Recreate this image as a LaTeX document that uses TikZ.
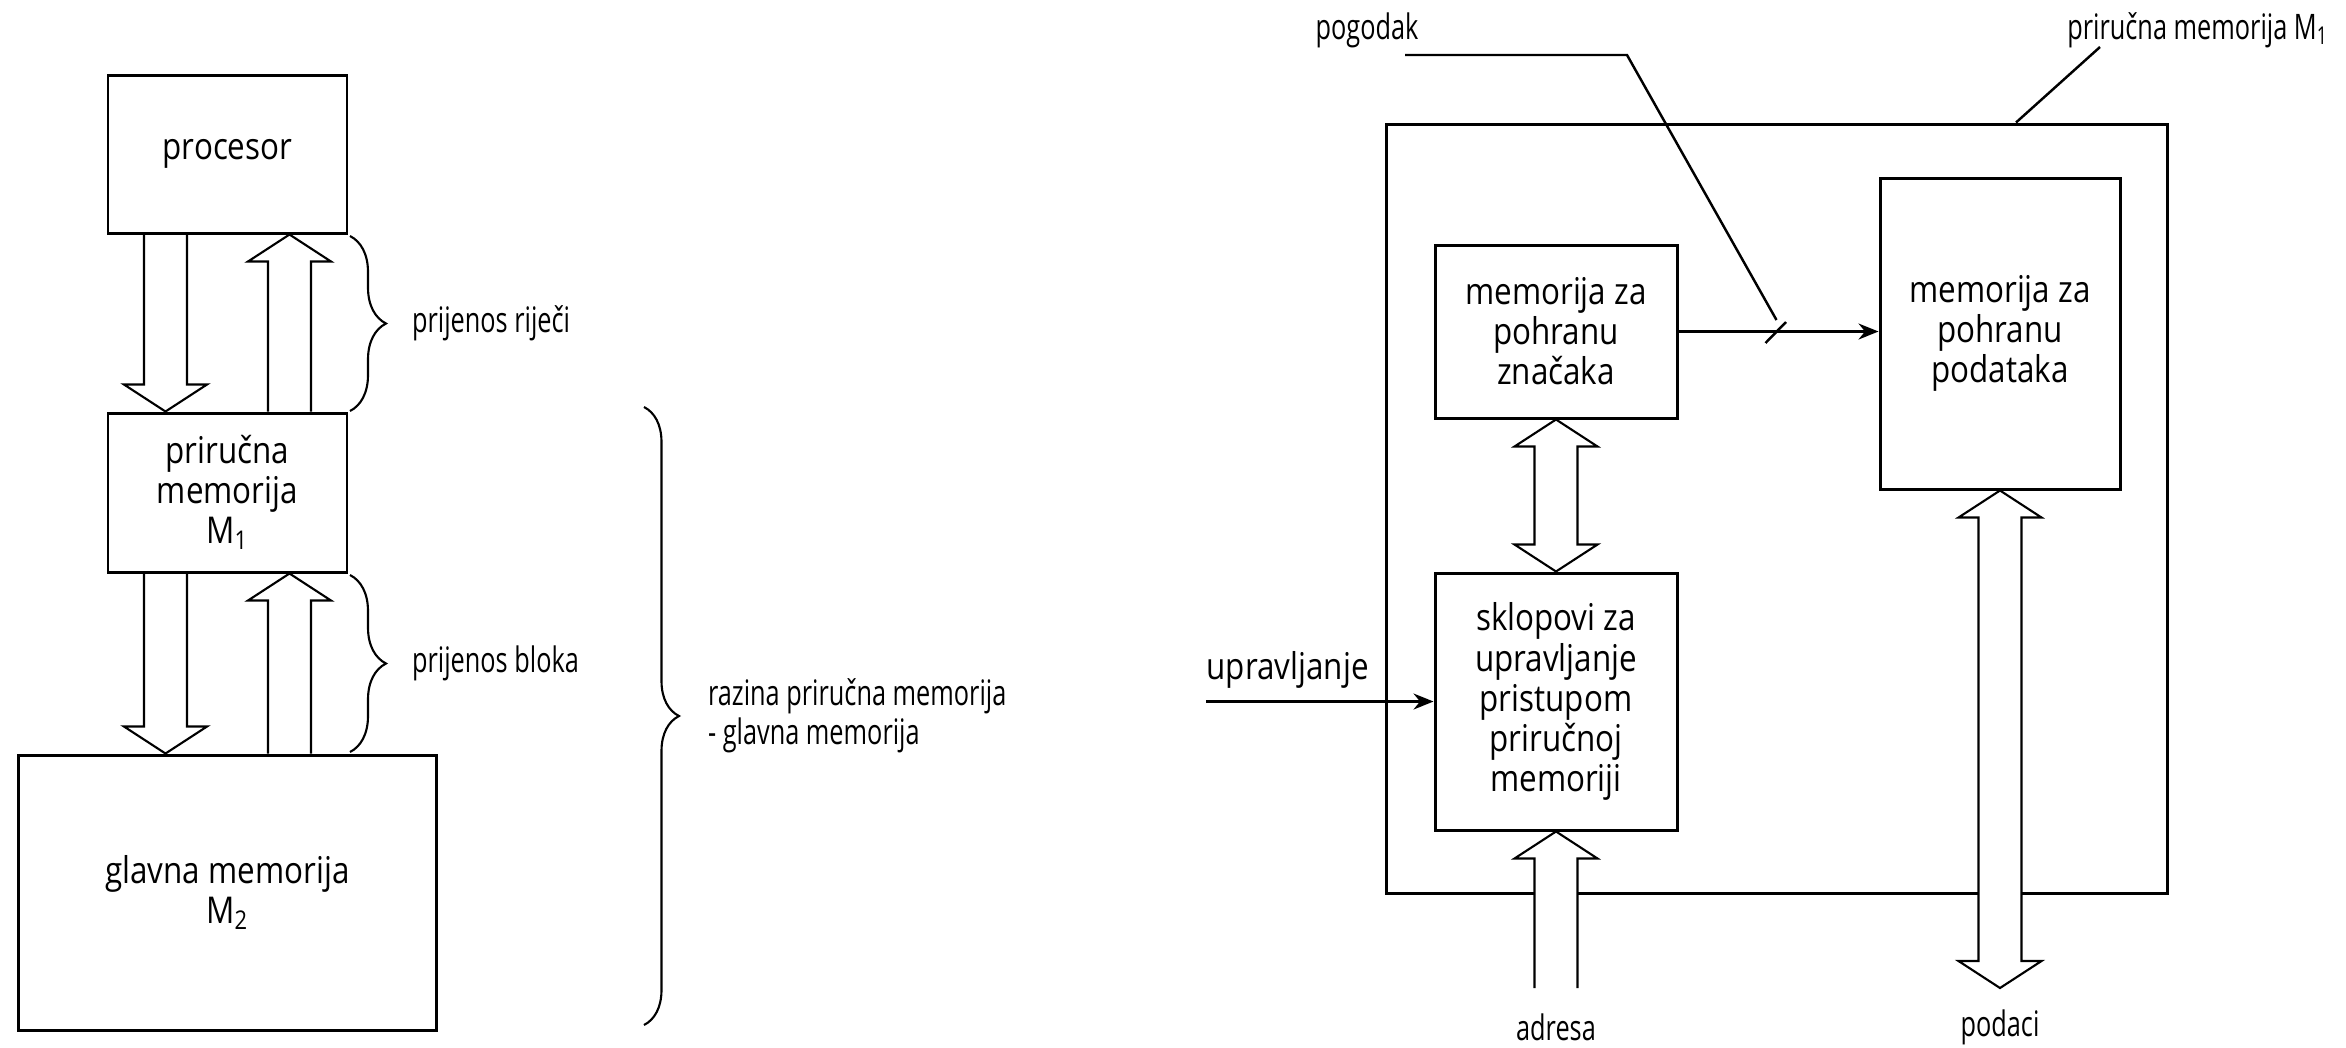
\documentclass[tikz,border=0pt]{standalone}
\usepackage{fontspec}
\setmainfont{Open Sans}[FakeStretch=0.85]
\newfontfamily\lblfont{Open Sans}[FakeStretch=0.72]
\usepackage{tikz}
\usetikzlibrary{calc,arrows.meta,decorations.pathreplacing,backgrounds}
\newcommand{\boxfont}{\fontsize{10.5}{11.4}\selectfont}
\newcommand{\sh}{0.215}
\newcommand{\br}{0.415}
\newcommand{\hl}{0.27}
\newcommand{\fatarrow}[2]{%
\draw[fat] let \p1=(#1), \p2=(#2), \n1={ifthenelse(\y2>\y1,1,-1)} in
 ({\x1-\sh cm},\y1) -- ({\x1-\sh cm},{\y2-(\n1)*\hl cm}) -- ({\x1-\br cm},{\y2-(\n1)*\hl cm}) -- (\x1,\y2)
 -- ({\x1+\br cm},{\y2-(\n1)*\hl cm}) -- ({\x1+\sh cm},{\y2-(\n1)*\hl cm}) -- ({\x1+\sh cm},\y1);}
\newcommand{\fatboth}[2]{%
\draw[fat] let \p1=(#1), \p2=(#2), \n1={ifthenelse(\y2>\y1,1,-1)} in
 (\x1,\y1) -- ({\x1-\br cm},{\y1+(\n1)*\hl cm}) -- ({\x1-\sh cm},{\y1+(\n1)*\hl cm})
 -- ({\x1-\sh cm},{\y2-(\n1)*\hl cm}) -- ({\x1-\br cm},{\y2-(\n1)*\hl cm}) -- (\x1,\y2)
 -- ({\x1+\br cm},{\y2-(\n1)*\hl cm}) -- ({\x1+\sh cm},{\y2-(\n1)*\hl cm})
 -- ({\x1+\sh cm},{\y1+(\n1)*\hl cm}) -- ({\x1+\br cm},{\y1+(\n1)*\hl cm}) -- cycle;}

\begin{document}
\begin{tikzpicture}[
  box/.style={draw,line width=0.85pt,align=center,inner sep=0pt,font=\boxfont},
  outerbox/.style={draw,line width=0.85pt,inner sep=0pt},
  fat/.style={draw,fill=white,line width=0.6pt},
  lbl/.style={font=\lblfont\fontsize{10}{11.1}\selectfont,inner sep=0pt},
  wire/.style={line width=0.7pt},
  tip/.style={-{Stealth[length=2mm,width=1.6mm]}},
  brc/.style={decorate,decoration={brace,amplitude=#1},line width=0.6pt}]
\useasboundingbox (0,0) rectangle (23.46,-10.47);

\node[box,minimum width=2.39cm,minimum height=1.58cm] (proc) at (2.275,-1.54) {procesor};
\node[box,minimum width=2.39cm,minimum height=1.59cm] (m1) at (2.275,-4.925) {priručna\\memorija\\M\textsubscript{1}};
\node[box,minimum width=4.18cm,minimum height=2.75cm] (m2) at (2.275,-8.925) {glavna memorija\\M\textsubscript{2}};

\node[box,minimum width=2.42cm,minimum height=1.73cm] (tag) at (15.56,-3.315) {memorija za\\pohranu\\značaka};
\node[box,minimum width=2.40cm,minimum height=3.11cm] (data) at (20.0,-3.335) {memorija za\\pohranu\\podataka};
\node[box,minimum width=2.42cm,minimum height=2.57cm] (ctrl) at (15.56,-7.015) {sklopovi za\\upravljanje\\pristupom\\priručnoj\\memoriji};

\coordinate (adr) at (15.56,-9.88);
\coordinate (pod) at (20.0,-9.88);
\coordinate (upr) at (12.06,-7.015);
\coordinate (hit) at (17.755,-3.315);
\coordinate (pog) at (14.05,-0.55);
\coordinate (pogk) at (16.27,-0.55);
\coordinate (cml) at (21.0,-0.47);

\begin{pgfonlayer}{background}
\node[outerbox,minimum width=7.81cm,minimum height=7.69cm] (cache) at (17.765,-5.085) {};
\fatarrow{$(proc.south)+(-0.62,0)$}{$(m1.north)+(-0.62,0)$}
\fatarrow{$(m1.north)+(0.62,0)$}{$(proc.south)+(0.62,0)$}
\fatarrow{$(m1.south)+(-0.62,0)$}{$(m2.north)+(-0.62,0)$}
\fatarrow{$(m2.north)+(0.62,0)$}{$(m1.south)+(0.62,0)$}
\fatboth{tag.south}{ctrl.north}
\fatarrow{adr}{ctrl.south}
\fatboth{data.south}{pod}
\end{pgfonlayer}

\draw[brc=3.6mm] (3.50,-2.36) -- (3.50,-4.11) node[lbl,midway,anchor=west,xshift=6.1mm] (riječ) {prijenos riječi};
\draw[brc=3.6mm] (3.50,-5.75) -- (3.50,-7.52) node[lbl,midway,anchor=west,xshift=6.1mm] (blok) {prijenos bloka};
\draw[brc=3.5mm] (6.44,-4.07) -- (6.44,-10.25) node[lbl,midway,anchor=west,xshift=6.3mm,align=left] (razina) {razina priručna memorija\\- glavna memorija};

\draw[wire,tip] (tag.east) -- (tag.east -| data.west);
\draw[wire] ($(hit)+(-0.10,-0.115)$) -- ($(hit)+(0.105,0.095)$);
\draw[wire] (pog) -- (pogk) -- ($(hit)+(0.01,0.115)$);
\node[lbl] (pogodak) at (13.67,-0.30) {pogodak};
\draw[wire] (cml) -- ($(cache.north)+(2.395,0)$);
\node[lbl] (cmlbl) at (21.98,-0.30) {priručna memorija M\textsubscript{1}};
\draw[wire,tip] (upr) -- (ctrl.west);
\node[font=\boxfont,anchor=west,inner sep=0pt] (uprl) at (12.06,-6.70) {upravljanje};
\node[lbl] (adrl) at (15.56,-10.27) {adresa};
\node[lbl] (podl) at (20.0,-10.27) {podaci};
\end{tikzpicture}
\end{document}
